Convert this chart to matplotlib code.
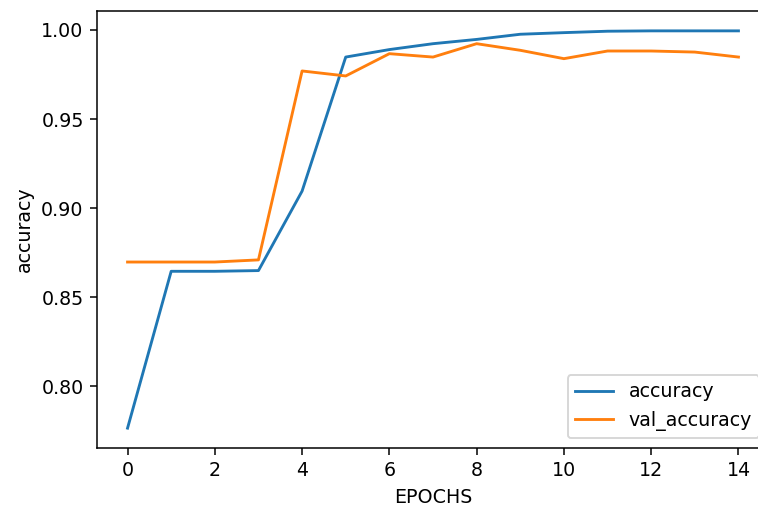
import matplotlib
matplotlib.use('Agg')
import matplotlib.pyplot as plt

epochs = list(range(15))
accuracy = [0.7766, 0.8646, 0.8646, 0.8650, 0.9096, 0.9848, 0.9890, 0.9923,
            0.9947, 0.9976, 0.9985, 0.9993, 0.9995, 0.9995, 0.9995]
val_accuracy = [0.8698, 0.8698, 0.8698, 0.8710, 0.9770, 0.9742, 0.9867, 0.9848,
                0.9923, 0.9886, 0.9839, 0.9882, 0.9882, 0.9876, 0.9848]

dpi = 137
fig = plt.figure(figsize=(758 / dpi, 506 / dpi), dpi=dpi)
# axes run slightly past the right edge, like the cropped original
ax = fig.add_axes([97 / 758, 58 / 506, (769 - 97) / 758, (448 - 11) / 506])

ax.plot(epochs, accuracy, label='accuracy')
ax.plot(epochs, val_accuracy, label='val_accuracy')
ax.set_xlabel('EPOCHS')
ax.set_ylabel('accuracy')
ax.set_xticks(range(0, 15, 2))
ax.legend(loc='lower right')

fig.savefig('out.png', dpi=dpi)
